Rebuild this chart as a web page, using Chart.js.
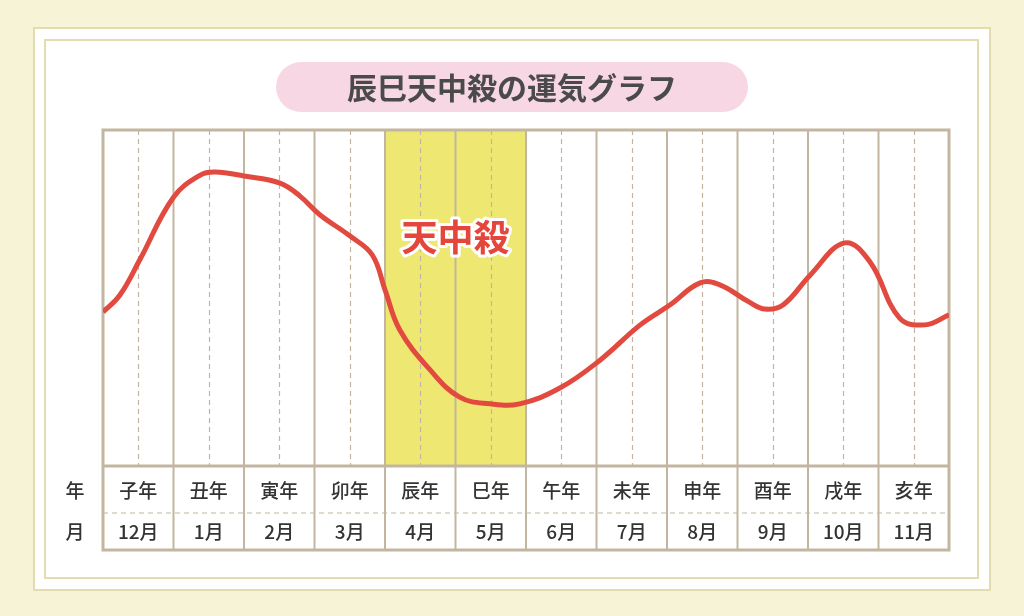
<!DOCTYPE html>
<html><head><meta charset="utf-8">
<script src="https://cdn.jsdelivr.net/npm/chart.js@4"></script>
<style>html,body{margin:0;padding:0;background:#f7f3d6}canvas{display:block}</style>
</head><body>
<div style="width:1024px;height:616px"><canvas id="c"></canvas></div>
<script>
const title = "辰巳天中殺の運気グラフ";
const yearLabels = ["子年","丑年","寅年","卯年","辰年","巳年","午年","未年","申年","酉年","戌年","亥年"];
const monthLabels = ["12月","1月","2月","3月","4月","5月","6月","7月","8月","9月","10月","11月"];
const tenchusatsuFrom = 4, tenchusatsuTo = 6;
const lineX = [0,0.24,0.52,1.0,1.38,1.59,2.0,2.51,2.79,3.08,3.5,3.82,4.0,4.21,4.64,5.06,5.49,5.91,6.48,7.05,7.62,8.04,8.47,8.75,9.15,9.39,9.65,10.03,10.52,10.88,11.3,11.66,12];
const lineY = [45.8,50.9,61.3,80,86.6,87.5,86.3,84.2,80.4,74.7,68.5,62.8,52.4,40.5,28.6,20.5,18.5,18.5,23.2,31.5,42,47.9,54.5,53.9,49,46.7,48,56.8,66.4,60.7,44,42,45];
const FONT = "'Noto Sans CJK JP','Noto Sans',sans-serif";
const GRID = "#c2b6a0";

const deco = {
  id:'deco',
  beforeDraw(chart){
    const ctx=chart.ctx, a=chart.chartArea, xs=chart.scales.x;
    ctx.save();
    ctx.fillStyle="#f7f3d6"; ctx.fillRect(0,0,1024,616);
    ctx.fillStyle="#fff"; ctx.fillRect(34,28,956,562);
    ctx.strokeStyle="#e3dcae"; ctx.lineWidth=2;
    ctx.strokeRect(34,28,956,562);
    ctx.strokeRect(45,40,933,538);
    ctx.fillStyle="#f8d7e5";
    ctx.beginPath(); ctx.roundRect(276,62,472,50,25); ctx.fill();
    ctx.fillStyle="#4a4a4a"; ctx.font="bold 30px "+FONT; ctx.textAlign="center"; ctx.textBaseline="middle";
    ctx.fillText(title,512,88);
    const b0=xs.getPixelForValue(tenchusatsuFrom), b1=xs.getPixelForValue(tenchusatsuTo);
    ctx.fillStyle="#eee873"; ctx.fillRect(b0,a.top,b1-b0,a.bottom-a.top);
    ctx.strokeStyle=GRID; ctx.lineWidth=1.2; ctx.setLineDash([5,4]);
    for(let i=0;i<12;i++){const x=Math.round(xs.getPixelForValue(i+0.5))+0.5;
      ctx.beginPath(); ctx.moveTo(x,a.top); ctx.lineTo(x,a.bottom); ctx.stroke();}
    ctx.beginPath(); ctx.moveTo(a.left,513); ctx.lineTo(a.right,513); ctx.stroke();
    ctx.setLineDash([]);
    ctx.lineWidth=2;
    for(let i=1;i<12;i++){const x=xs.getPixelForValue(i);
      ctx.beginPath(); ctx.moveTo(x,a.top); ctx.lineTo(x,550); ctx.stroke();}
    ctx.lineWidth=3;
    ctx.strokeRect(a.left,a.top,a.right-a.left,550-a.top);
    ctx.beginPath(); ctx.moveTo(a.left,a.bottom); ctx.lineTo(a.right,a.bottom); ctx.stroke();
    ctx.fillStyle="#333"; ctx.font="500 19px "+FONT;
    ctx.fillText("年",75,491); ctx.fillText("月",75,532);
    for(let i=0;i<12;i++){const x=xs.getPixelForValue(i+0.5);
      ctx.fillText(yearLabels[i],x,491); ctx.fillText(monthLabels[i],x,532);}
    ctx.restore();
  },
  afterDatasetsDraw(chart){
    const ctx=chart.ctx, xs=chart.scales.x;
    const cx=(xs.getPixelForValue(tenchusatsuFrom)+xs.getPixelForValue(tenchusatsuTo))/2;
    ctx.save(); ctx.font="bold 36px "+FONT; ctx.textAlign="center"; ctx.textBaseline="middle";
    ctx.lineJoin="round"; ctx.strokeStyle="#fff"; ctx.lineWidth=6; ctx.strokeText("天中殺",cx,237);
    ctx.fillStyle="#e5463c"; ctx.fillText("天中殺",cx,237); ctx.restore();
  }
};

new Chart(document.getElementById('c'),{
  type:'scatter',
  data:{datasets:[{data:lineX.map((x,i)=>({x,y:lineY[i]})),showLine:true,borderColor:"#e24a40",borderWidth:5,pointRadius:0,tension:0.4,fill:false}]},
  options:{responsive:true,maintainAspectRatio:false,animation:false,
    layout:{padding:{left:103,right:75,top:130,bottom:150}},
    plugins:{legend:{display:false},tooltip:{enabled:false}},
    scales:{x:{type:'linear',min:0,max:12,display:false},y:{min:0,max:100,display:false}}},
  plugins:[deco]
});
</script></body></html>
